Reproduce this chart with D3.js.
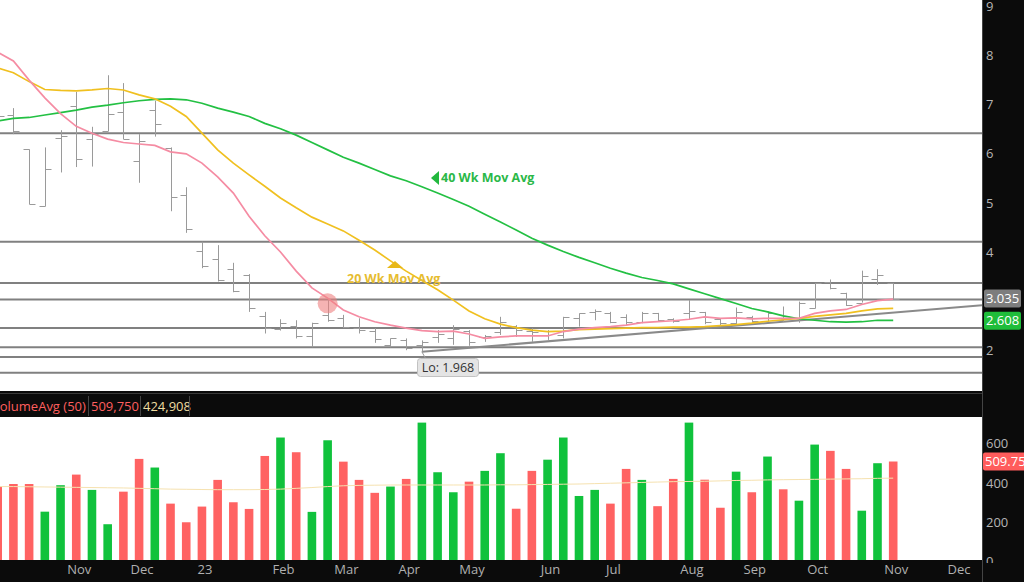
<!DOCTYPE html>
<html>
<head>
<meta charset="utf-8">
<script src="https://cdn.jsdelivr.net/npm/d3@7"></script>
<style>
  body { margin: 0; background: #0b0b0b; }
  svg { display: block; font-family: "Open Sans", sans-serif; }
</style>
</head>
<body>
<svg id="chart" width="1024" height="582"></svg>
<script>
// weekly bars, Oct 3 2022 .. Nov 6 2023 (week start)
var firstWeek = new Date(2022, 9, 3);

var opens  = [6.85,6.80,6.09,4.94,6.32,6.97,6.30,6.46,6.85,5.85,6.89,6.12,5.16,4.03,3.86,3.65,3.53,2.70,2.43,2.50,
              2.28,2.72,2.66,2.45,2.40,2.11,2.21,2.10,2.26,2.24,2.39,2.27,2.38,2.50,2.40,2.31,2.31,2.65,2.77,2.75,
              2.68,2.58,2.75,2.63,2.75,2.78,2.63,2.56,2.68,2.60,2.62,2.66,2.85,3.38,3.17,2.97,3.45,3.36];
var highs  = [6.95,6.93,6.09,6.13,6.48,7.26,6.55,7.60,7.44,6.40,7.08,6.13,5.32,4.21,4.14,3.78,3.55,2.78,2.63,2.61,
              2.56,3.02,2.72,2.65,2.45,2.24,2.24,2.20,2.41,2.51,2.41,2.31,2.68,2.51,2.45,2.41,2.68,2.75,2.83,2.78,
              2.73,2.78,2.76,2.65,3.02,2.78,2.65,2.87,2.70,2.79,2.89,2.99,3.37,3.44,3.17,3.62,3.65,3.37];
var lows   = [6.60,6.40,4.97,4.93,5.62,5.73,5.74,6.46,6.30,5.41,6.35,4.83,4.39,3.67,3.40,3.18,2.78,2.34,2.40,2.24,
              2.06,2.58,2.45,2.34,2.15,2.06,2.00,1.968,2.15,2.11,2.09,2.17,2.31,2.27,2.17,2.21,2.24,2.48,2.61,2.55,
              2.51,2.55,2.58,2.56,2.62,2.53,2.48,2.53,2.56,2.58,2.58,2.56,2.85,3.24,2.90,2.97,3.33,3.035];
var closes = [6.77,6.46,4.98,5.69,6.36,5.90,6.40,6.82,6.30,6.27,6.61,5.11,4.47,3.72,3.43,3.21,2.85,2.45,2.55,2.29,
              2.56,2.62,2.48,2.41,2.22,2.24,2.04,2.17,2.33,2.43,2.17,2.28,2.58,2.41,2.38,2.40,2.67,2.75,2.80,2.58,
              2.57,2.76,2.62,2.60,2.80,2.58,2.55,2.78,2.60,2.76,2.70,2.96,3.36,3.26,2.92,3.51,3.53,3.035];

var ma10 = [8.07,7.89,7.50,7.14,6.82,6.56,6.42,6.30,6.23,6.20,6.17,6.04,6.00,5.81,5.53,5.20,4.73,4.33,4.00,3.61,
            3.27,3.06,2.82,2.68,2.58,2.51,2.45,2.40,2.38,2.39,2.33,2.24,2.27,2.29,2.29,2.29,2.38,2.43,2.46,2.48,
            2.51,2.56,2.58,2.60,2.63,2.68,2.65,2.66,2.64,2.65,2.65,2.65,2.75,2.80,2.83,2.93,3.01,3.04];
var ma20 = [7.75,7.65,7.47,7.31,7.29,7.28,7.30,7.33,7.30,7.20,7.12,6.97,6.76,6.42,6.08,5.81,5.57,5.34,5.10,4.90,
            4.71,4.57,4.43,4.24,4.04,3.82,3.61,3.42,3.23,3.02,2.80,2.64,2.53,2.46,2.41,2.38,2.39,2.42,2.43,2.44,
            2.45,2.46,2.46,2.47,2.47,2.48,2.50,2.52,2.55,2.59,2.62,2.65,2.69,2.72,2.75,2.80,2.84,2.85];
var ma40 = [6.67,6.72,6.74,6.79,6.84,6.89,6.95,6.99,7.04,7.08,7.11,7.12,7.10,7.03,6.93,6.85,6.76,6.62,6.51,6.38,
            6.23,6.08,5.93,5.81,5.68,5.55,5.45,5.33,5.20,5.07,4.93,4.77,4.61,4.45,4.28,4.14,4.01,3.89,3.78,3.67,
            3.57,3.48,3.42,3.35,3.25,3.15,3.05,2.95,2.85,2.78,2.70,2.64,2.61,2.58,2.57,2.58,2.61,2.608];

// volume in thousands
var volumes = [382,395,395,254,389,443,365,190,356,523,479,295,200,280,416,302,268,538,632,557,
               253,618,509,416,350,382,421,708,455,353,407,462,552,269,462,519,632,334,365,295,
               472,416,282,421,708,417,274,458,353,535,368,310,596,564,472,259,501,509.75];
var volAvg  = [382,382,381,380,379,378,377,376,375,373,371,369,368,367,366,366,366,367,369,373,
               377,382,386,388,389,390,390,390,390,390,390,390,391,391,392,393,394,395,397,399,
               401,403,405,407,408,409,411,413,414,416,417,418,419,420,421,422,424,424.908];

var levels = [6.42, 4.21, 3.37, 3.035, 2.45, 2.06, 1.86, 1.54];
var trendFrom = [27, 1.968];
var trendEndPrice = 2.915;
var priceTicks = [2, 3, 4, 5, 6, 7, 8, 9];
var volTicks = [0, 200, 400, 600];

var W = 1024, H = 582, plotR = 982;
var priceBottom = 391, volTop = 417, volBottom = 560;

var svg = d3.select("#chart");

var x = d3.scaleLinear().domain([0, 57]).range([-2.3, 893.2]);
var y = d3.scaleLinear().domain([2, 9]).range([350.2, 6.5]);
var yv = d3.scaleLinear().domain([0, 600]).range([561.5, 443.8]);

var weeks = d3.range(x.invert(plotR) + 1).map(function (i) { return d3.timeWeek.offset(firstWeek, i); });

svg.append("rect").attr("width", W).attr("height", H).attr("fill", "#0b0b0b");
svg.append("rect").attr("width", plotR).attr("height", priceBottom).attr("fill", "#fff");
svg.append("rect").attr("y", volTop).attr("width", plotR).attr("height", volBottom - volTop).attr("fill", "#fff");
svg.append("line").attr("x1", 0).attr("x2", plotR).attr("y1", 393.5).attr("y2", 393.5).attr("stroke", "#3a3a3a");
svg.append("line").attr("x1", plotR + 0.5).attr("x2", plotR + 0.5).attr("y1", 0).attr("y2", H).attr("stroke", "#444");

var defs = svg.append("defs");
defs.append("clipPath").attr("id", "clipPrice").append("rect")
    .attr("width", plotR).attr("height", priceBottom);
defs.append("clipPath").attr("id", "clipVol").append("rect")
    .attr("y", volTop).attr("width", plotR).attr("height", volBottom - volTop);
defs.append("clipPath").attr("id", "clipVolAxis").append("rect")
    .attr("x", plotR).attr("y", volTop).attr("width", W - plotR).attr("height", volBottom - volTop + 3);

var gPrice = svg.append("g").attr("clip-path", "url(#clipPrice)");
var gVol = svg.append("g").attr("clip-path", "url(#clipVol)");

// support / resistance levels
gPrice.selectAll("line.level").data(levels).enter().append("line")
    .attr("class", "level")
    .attr("x1", 0).attr("x2", plotR)
    .attr("y1", function (d) { return y(d); }).attr("y2", function (d) { return y(d); })
    .attr("stroke", "#808080").attr("stroke-width", 2);

// trend line off the low
gPrice.append("line")
    .attr("x1", x(trendFrom[0])).attr("y1", y(trendFrom[1]))
    .attr("x2", plotR).attr("y2", y(trendEndPrice))
    .attr("stroke", "#8a8a8a").attr("stroke-width", 2);

// OHLC bars
var bars = gPrice.selectAll("g.bar").data(opens).enter().append("g").attr("class", "bar")
    .attr("stroke", "#9a9a9a").attr("stroke-width", 1);
bars.append("line")
    .attr("x1", function (d, i) { return Math.round(x(i)) + 0.5; })
    .attr("x2", function (d, i) { return Math.round(x(i)) + 0.5; })
    .attr("y1", function (d, i) { return y(highs[i]); })
    .attr("y2", function (d, i) { return y(lows[i]); });
bars.append("line")
    .attr("x1", function (d, i) { return Math.round(x(i)) - 5.5; })
    .attr("x2", function (d, i) { return Math.round(x(i)) + 0.5; })
    .attr("y1", function (d) { return Math.round(y(d)) + 0.5; })
    .attr("y2", function (d) { return Math.round(y(d)) + 0.5; });
bars.append("line")
    .attr("x1", function (d, i) { return Math.round(x(i)) + 0.5; })
    .attr("x2", function (d, i) { return Math.round(x(i)) + 6.5; })
    .attr("y1", function (d, i) { return Math.round(y(closes[i])) + 0.5; })
    .attr("y2", function (d, i) { return Math.round(y(closes[i])) + 0.5; });

// moving averages
var maLine = function (arr) {
    return d3.line().x(function (d, i) { return x(i); }).y(function (d) { return y(d); })(arr);
};
gPrice.append("path").attr("d", maLine(ma40)).attr("fill", "none").attr("stroke", "#23c043").attr("stroke-width", 1.7);
gPrice.append("path").attr("d", maLine(ma20)).attr("fill", "none").attr("stroke", "#f0c020").attr("stroke-width", 1.7);
gPrice.append("path").attr("d", maLine(ma10)).attr("fill", "none").attr("stroke", "#f58ca3").attr("stroke-width", 1.7);

// highlighted rejection
gPrice.append("circle").attr("cx", x(21)).attr("cy", y(2.955)).attr("r", 10)
    .attr("fill", "#ee8080").attr("opacity", 0.6);

// annotations
gPrice.append("path").attr("d", "M431,178L439,171L439,185Z").attr("fill", "#22b83e");
gPrice.append("text").attr("x", 441).attr("y", 182).text("40 Wk Mov Avg")
    .attr("fill", "#2bb848").attr("font-size", 12.5).attr("font-weight", "bold");
gPrice.append("path").attr("d", "M387,268L395,261L403,268Z").attr("fill", "#e8b818");
gPrice.append("text").attr("x", 347).attr("y", 283).text("20 Wk Mov Avg")
    .attr("fill", "#e6bc30").attr("font-size", 12.5).attr("font-weight", "bold");

// low label
var lx = x(trendFrom[0]), ly = y(trendFrom[1]);
gPrice.append("line").attr("x1", lx).attr("y1", ly).attr("x2", lx + 4).attr("y2", 359)
    .attr("stroke", "#999");
gPrice.append("rect").attr("x", 417.5).attr("y", 358.5).attr("width", 61).attr("height", 18).attr("rx", 3)
    .attr("fill", "#e4e4e4").attr("stroke", "#c2c2c2");
gPrice.append("text").attr("x", 448).attr("y", 372).attr("text-anchor", "middle")
    .attr("fill", "#333").attr("font-size", 12.5).text("Lo: " + trendFrom[1]);

// price axis (the 3 sits under the last-price badge)
var yAxis = svg.append("g").attr("transform", "translate(" + plotR + ",0)")
    .call(d3.axisRight(y).tickValues(priceTicks.filter(function (t) { return t !== 3; }))
        .tickSize(0).tickPadding(4).tickFormat(d3.format("d")));
yAxis.select(".domain").remove();
yAxis.selectAll("text").attr("fill", "#b5b5b5").attr("font-size", 13).attr("font-family", "Open Sans");

var badge = function (py, label, bg) {
    svg.append("rect").attr("x", 984).attr("y", py - 9).attr("width", 37).attr("height", 18).attr("rx", 2).attr("fill", bg);
    svg.append("text").attr("x", 1002.5).attr("y", py + 4.5).attr("text-anchor", "middle")
        .attr("fill", "#fff").attr("font-size", 13).text(label);
};
badge(y(closes[57]) - 1, closes[57].toFixed(3), "#7d7d7d");
badge(y(ma40[57]) + 0.5, ma40[57].toFixed(3), "#1fbd3a");

// volume
gVol.selectAll("rect.vol").data(volumes).enter().append("rect")
    .attr("class", "vol")
    .attr("x", function (d, i) { return x(i) - 4.3; })
    .attr("width", 8.6)
    .attr("y", function (d) { return yv(d); })
    .attr("height", function (d) { return volBottom - yv(d); })
    .attr("fill", function (d, i) { return i > 0 && closes[i] > closes[i - 1] ? "#10c23c" : "#ff6262"; });
gVol.append("path")
    .attr("d", d3.line().x(function (d, i) { return x(i); }).y(function (d) { return yv(d); })(volAvg))
    .attr("fill", "none").attr("stroke", "#f6e2b0").attr("stroke-width", 1);

var vAxis = svg.append("g").attr("clip-path", "url(#clipVolAxis)")
    .append("g").attr("transform", "translate(" + plotR + ",0)")
    .call(d3.axisRight(yv).tickValues(volTicks).tickSize(0).tickPadding(4));
vAxis.select(".domain").remove();
vAxis.selectAll("text").attr("fill", "#b5b5b5").attr("font-size", 13).attr("font-family", "Open Sans");

var lastVol = volumes[volumes.length - 1];
svg.append("rect").attr("x", 983).attr("y", yv(lastVol) - 9).attr("width", 45).attr("height", 18).attr("rx", 2).attr("fill", "#ff5c5c");
svg.append("text").attr("x", 985).attr("y", yv(lastVol) + 4.5).attr("fill", "#fff").attr("font-size", 13).text(lastVol.toFixed(2));

// volume header
var fmt = d3.format(",");
var header = svg.append("g").attr("font-size", 13);
header.append("text").attr("x", -8).attr("y", 411).attr("fill", "#ff5f5f").text("VolumeAvg (50)");
header.append("text").attr("x", 91).attr("y", 411).attr("fill", "#ff5f5f").text(fmt(Math.round(lastVol * 1000)));
header.append("text").attr("x", 143).attr("y", 411).attr("fill", "#efdca0").text(fmt(Math.round(volAvg[57] * 1000)));
[88.5, 140.5, 189.5].forEach(function (sx) {
    header.append("line").attr("x1", sx).attr("x2", sx).attr("y1", 396).attr("y2", 416).attr("stroke", "#444");
});

// time axis: first week of each month
var monthIdx = weeks.map(function (d, i) { return i; }).filter(function (i) {
    return i > 0 && weeks[i].getMonth() !== weeks[i - 1].getMonth();
});
var xAxis = svg.append("g").attr("transform", "translate(2.5," + volBottom + ")")
    .call(d3.axisBottom(x).tickValues(monthIdx).tickSize(0).tickPadding(5)
        .tickFormat(function (i) {
            var d = weeks[i];
            return d.getMonth() === 0 ? d3.timeFormat("%y")(d) : d3.timeFormat("%b")(d);
        }));
xAxis.select(".domain").remove();
xAxis.selectAll("text").attr("fill", "#b0b0b0").attr("font-size", 13).attr("font-family", "Open Sans");
</script>
</body>
</html>
